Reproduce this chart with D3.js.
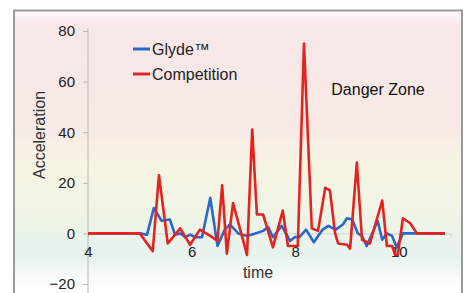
<!DOCTYPE html>
<html>
<head>
<meta charset="utf-8">
<script src="https://cdn.jsdelivr.net/npm/d3@7"></script>
<style>
  body { margin: 0; background: #fff; }
  svg { display: block; font-family: 'Liberation Sans', Arial, sans-serif; }
</style>
</head>
<body>
<svg id="chart"></svg>
<script>
// values (time, acceleration)
const glydeTime = [4.0, 5.0, 5.14, 5.27, 5.42, 5.58, 5.68, 5.78, 5.88, 5.97, 6.07, 6.2, 6.36, 6.5, 6.64, 6.74, 6.9, 7.07, 7.23, 7.38, 7.48, 7.57, 7.74, 7.9, 7.99, 8.08, 8.21, 8.36, 8.53, 8.64, 8.78, 8.92, 9.0, 9.1, 9.21, 9.29, 9.38, 9.53, 9.59, 9.68, 9.77, 9.87, 9.96, 10.08, 10.27, 10.89];
const glydeAcc = [0, 0, -0.5, 10, 5, 5.5, -0.5, 0, -1.5, -0.5, -1.5, -1.5, 14, -5, 1.5, 3.5, 0, -1, 0, 1, 2.5, -1.5, 3, -3, -1.5, -1.5, 1.5, -3.5, 1.5, 3, 1.5, 3.5, 6, 5.5, 0, -1, -5, 2, 5, -2.5, 0, -1, -5.5, 0, 0, 0];

const compTime = [4.0, 5.0, 5.25, 5.37, 5.54, 5.78, 5.97, 6.16, 6.36, 6.5, 6.59, 6.68, 6.8, 7.07, 7.17, 7.26, 7.38, 7.57, 7.76, 7.86, 8.05, 8.17, 8.32, 8.44, 8.58, 8.67, 8.77, 8.83, 9.0, 9.06, 9.19, 9.29, 9.44, 9.68, 9.77, 9.87, 9.93, 9.98, 10.08, 10.22, 10.35, 10.89];
const compAcc = [0, 0, -7, 23, -4, 2, -4.5, 1.5, -1, -3, 19, -8, 12, -8.5, 41, 7.5, 7.5, -5.5, 9, -5, -5, 75, 2, 1, 18, 17, 0, -4, -4.5, -6, 28, -2.5, -4, 13, -5, -5, -8.5, -8.5, 6, 4, 0, 0];

const xTicks = [4, 6, 8, 10];
const yTicks = [-20, 0, 20, 40, 60, 80];
const seriesNames = ['Glyde™', 'Competition'];
const seriesColors = ['#2c66c8', '#e4231f'];

const width = 464;
const height = 293;

const svg = d3.select('#chart').attr('width', width).attr('height', height);

// background gradient (pink danger zone fading to green)
const defs = svg.append('defs');
const grad = defs.append('linearGradient')
  .attr('id', 'bg')
  .attr('x1', 0).attr('y1', 0).attr('x2', 0).attr('y2', 1);
[[0, '#fcfafa'], [0.05, '#f8e7e7'], [0.38, '#f7e9e6'], [0.52, '#f7f4e3'], [0.68, '#eef5e6'], [0.82, '#e8f3ee'], [0.93, '#ffffff'], [1, '#ffffff']]
  .forEach(s => grad.append('stop').attr('offset', s[0]).attr('stop-color', s[1]));

svg.append('rect')
  .attr('x', 14).attr('y', 10.5)
  .attr('width', 448).attr('height', 300)
  .attr('fill', 'url(#bg)')
  .attr('stroke', '#9a9a9a')
  .attr('stroke-width', 2);

const x = d3.scaleLinear().domain([4, 11]).range([88, 450.6]);
const y = d3.scaleLinear().domain([-20, 80]).range([284, 31]);

// y axis
const yAxis = svg.append('g')
  .attr('transform', 'translate(' + x(4) + ',0)')
  .call(d3.axisLeft(y).tickValues(yTicks).tickSize(5).tickPadding(8));
yAxis.select('.domain').remove();
yAxis.append('line')
  .attr('x1', 0).attr('x2', 0)
  .attr('y1', y(81)).attr('y2', height)
  .attr('stroke', '#b8b8b8');
yAxis.selectAll('.tick line').attr('stroke', '#b8b8b8');
yAxis.selectAll('.tick text')
  .style('font-size', '15px')
  .style('font-family', "'Liberation Sans', Arial, sans-serif")
  .attr('fill', '#222');

// x axis sits on zero
const xAxis = svg.append('g')
  .attr('transform', 'translate(0,' + y(0) + ')')
  .call(d3.axisBottom(x).tickValues(xTicks).tickFormat(d3.format('d')).tickSize(4).tickPadding(9));
xAxis.select('.domain').attr('stroke', '#d4d4d4');
xAxis.selectAll('.tick line').attr('stroke', '#b8b8b8');
xAxis.selectAll('.tick text')
  .style('font-size', '15px')
  .style('font-family', "'Liberation Sans', Arial, sans-serif")
  .attr('fill', '#222');

// lines
const line = d3.line().x(d => x(d[0])).y(d => y(d[1]));
const glyde = glydeTime.map((t, i) => [t, glydeAcc[i]]);
const comp = compTime.map((t, i) => [t, compAcc[i]]);

svg.append('path')
  .datum(glyde)
  .attr('d', line)
  .attr('fill', 'none')
  .attr('stroke', seriesColors[0])
  .attr('stroke-width', 2.6)
  .attr('stroke-linejoin', 'round');

svg.append('path')
  .datum(comp)
  .attr('d', line)
  .attr('fill', 'none')
  .attr('stroke', seriesColors[1])
  .attr('stroke-width', 2.6)
  .attr('stroke-linejoin', 'round');

// legend
const legend = svg.append('g');
seriesNames.forEach((name, i) => {
  const ly = 49 + i * 25;
  legend.append('line')
    .attr('x1', 133).attr('x2', 150)
    .attr('y1', ly).attr('y2', ly)
    .attr('stroke', seriesColors[i])
    .attr('stroke-width', 3);
  legend.append('text')
    .attr('x', 152).attr('y', ly + 6)
    .style('font-size', '16px')
    .attr('fill', '#222')
    .text(name);
});

// labels
svg.append('text')
  .attr('x', 378).attr('y', 95)
  .attr('text-anchor', 'middle')
  .style('font-size', '16px')
  .attr('fill', '#111')
  .text('Danger Zone');

svg.append('text')
  .attr('x', 258).attr('y', 278)
  .attr('text-anchor', 'middle')
  .style('font-size', '16px')
  .attr('fill', '#333')
  .text('time');

svg.append('text')
  .attr('transform', 'translate(45,135) rotate(-90)')
  .attr('text-anchor', 'middle')
  .style('font-size', '16px')
  .attr('fill', '#333')
  .text('Acceleration');
</script>
</body>
</html>
